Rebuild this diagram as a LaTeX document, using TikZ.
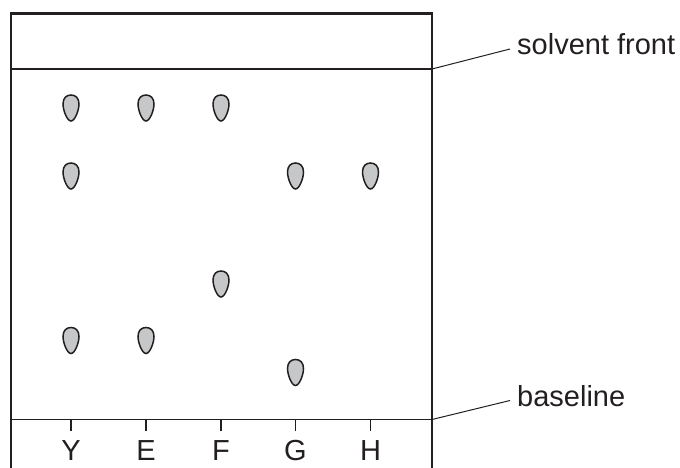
\documentclass[tikz,border=0pt]{standalone}
\usepackage{fontspec}
\setmainfont{Liberation Sans}
\definecolor{ink}{HTML}{231F20}
\definecolor{spotgray}{HTML}{C6C7C9}
\tikzset{
  frameline/.style={draw=ink, line width=2.2pt},
  thinline/.style={draw=ink, line width=1.4pt},
  leader/.style={draw=ink, line width=1pt},
  tick/.style={draw=ink, line width=1.3pt},
  lbl/.style={inner sep=0pt, font=\fontsize{29}{34}\selectfont, text=ink},
  spot/.pic={
    \path[draw=ink, fill=spotgray, line width=1.5pt]
      (0,13) .. controls (-4,13) and (-8,2) .. (-8,-4)
      .. controls (-8,-10) and (-4.5,-13) .. (0,-13)
      .. controls (4.5,-13) and (8,-10) .. (8,-4)
      .. controls (8,2) and (4,13) .. (0,13) -- cycle;
  }
}
\begin{document}
\begin{tikzpicture}[x=1pt, y=-1pt]
\useasboundingbox (0,0) rectangle (680,468);
% plate outline
\coordinate (tl) at (11,13.5);
\coordinate (tr) at (432,13.5);
\coordinate (bl) at (11,468);
\coordinate (br) at (432,468);
\draw[frameline] (bl) -- (tl) -- (tr) -- (br);
% solvent front and baseline
\coordinate (sfL) at (11,69);
\coordinate (sfR) at (432,69);
\coordinate (blL) at (11,419.5);
\coordinate (blR) at (432,419.5);
\draw[thinline] (sfL) -- (sfR);
\draw[thinline] (blL) -- (blR);
% labels
\node[lbl, anchor=base west] (sflabel) at (517,55) {solvent front};
\node[lbl, anchor=base west] (bllabel) at (517,406.5) {baseline};
\coordinate (sfEnd) at (510,49);
\coordinate (blEnd) at (510,400.5);
\draw[leader] (sfR) -- (sfEnd);
\draw[leader] (blR) -- (blEnd);
% ticks and lane letters
\foreach \nm/\x in {Y/71, E/146, F/221, G/295.5, H/370.5}{
  \coordinate (t\nm) at (\x,419.5);
  \coordinate (b\nm) at (\x,431);
  \draw[tick] (t\nm) -- (b\nm);
  \node[lbl, anchor=base] (l\nm) at (\x,460) {\nm};
}
% spots
\pic at (71,108) {spot};
\pic at (146,108) {spot};
\pic at (221,108) {spot};
\pic at (71,176) {spot};
\pic at (295.5,176) {spot};
\pic at (370.5,176) {spot};
\pic at (221,284) {spot};
\pic at (71,340.5) {spot};
\pic at (146,340.5) {spot};
\pic at (295.5,372.5) {spot};
\end{tikzpicture}
\end{document}
